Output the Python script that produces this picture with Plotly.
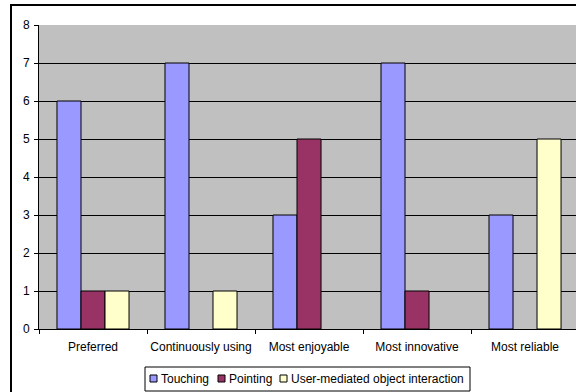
import plotly.graph_objects as go

categories = ["Preferred", "Continuously using", "Most enjoyable", "Most innovative", "Most reliable"]
touching = [6, 7, 3, 7, 3]
pointing = [1, 0, 5, 1, 0]
user_mediated = [1, 1, 0, 0, 5]

series = [
    ("Touching", touching, "#9999FF"),
    ("Pointing", pointing, "#993366"),
    ("User-mediated object interaction", user_mediated, "#FFFFCC"),
]

W, H = 576, 392
ML, MR, MT, MB = 39, 0, 25, 63
PW, PH = W - ML - MR, H - MT - MB


def px(x):
    return (x - ML) / PW


def py(y):
    return (H - MB - y) / PH


fig = go.Figure()
for name, vals, color in series:
    fig.add_trace(go.Bar(
        name=name, x=categories, y=vals,
        marker=dict(color=color,
                    line=dict(color="#000000", width=[1 if v else 0 for v in vals])),
        showlegend=False,
    ))

shapes = [dict(
    type="rect", xref="paper", yref="paper",
    x0=px(11), x1=px(600), y0=py(420), y1=py(5),
    line=dict(color="#000000", width=2), layer="below",
)]
annotations = []

# legend box with swatches and labels
shapes.append(dict(type="rect", xref="paper", yref="paper",
                   x0=px(145), x1=px(470), y0=py(391), y1=py(367),
                   fillcolor="white", line=dict(color="#000000", width=1)))
legend_x = [150, 218, 280]
for (name, _, color), lx in zip(series, legend_x):
    shapes.append(dict(type="rect", xref="paper", yref="paper",
                       x0=px(lx), x1=px(lx + 7), y0=py(382), y1=py(375),
                       fillcolor=color, line=dict(color="#000000", width=1)))
    annotations.append(dict(xref="paper", yref="paper", x=px(lx + 9), y=py(378.5),
                            text=name, showarrow=False, xanchor="left", yanchor="middle",
                            font=dict(size=12)))

fig.update_layout(
    width=W, height=H,
    margin=dict(l=ML, r=MR, t=MT, b=MB),
    paper_bgcolor="white",
    plot_bgcolor="#C0C0C0",
    barmode="group",
    bargap=0.333,
    bargroupgap=0,
    font=dict(family="Liberation Sans, Arial, sans-serif", size=12, color="#000000"),
    showlegend=False,
    xaxis=dict(
        type="category", range=[-0.5, 4.472],
        showline=True, linecolor="#000000", linewidth=1,
        ticks="outside", tickson="boundaries", ticklen=4, tickcolor="#000000",
        ticklabelstandoff=7, tickangle=0, automargin=False,
        showgrid=False, zeroline=False,
    ),
    yaxis=dict(
        range=[0, 8], dtick=1,
        showline=True, linecolor="#000000", linewidth=1,
        ticks="outside", ticklen=4, tickcolor="#000000",
        ticklabelstandoff=2, automargin=False,
        showgrid=True, gridcolor="#000000", gridwidth=1,
        zeroline=False,
    ),
    shapes=shapes,
    annotations=annotations,
)

fig.write_html("out.html")
